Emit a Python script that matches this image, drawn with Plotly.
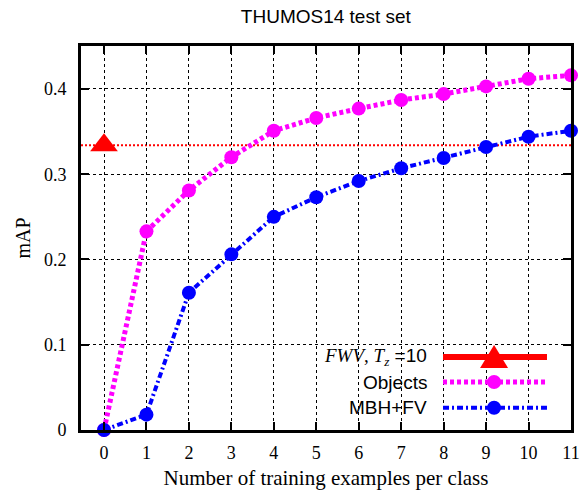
import plotly.graph_objects as go

# ---- data ----
n_examples = [0, 1, 2, 3, 4, 5, 6, 7, 8, 9, 10, 11]
objects_map = [0.0, 0.233, 0.281, 0.320, 0.351, 0.366, 0.377, 0.387, 0.394, 0.403, 0.412, 0.416]
mbhfv_map = [0.0, 0.018, 0.161, 0.206, 0.250, 0.273, 0.292, 0.307, 0.319, 0.332, 0.344, 0.351]
fwv_x = [0]
fwv_map = [0.334]
y_ticks = [0, 0.1, 0.2, 0.3, 0.4]
y_ticklabels = ["0", "0.1", "0.2", "0.3", "0.4"]

PINK = "#FF00FF"
BLUE = "#0000FF"
RED = "#FF0000"
SERIF = "Liberation Serif, Times New Roman, serif"
SANS = "Liberation Sans, Arial, sans-serif"

fig = go.Figure()

fig.add_trace(go.Scatter(
    x=n_examples, y=objects_map, mode="lines+markers", name="Objects",
    line=dict(color=PINK, width=5, dash="4px,3px"),
    marker=dict(color=PINK, size=14), cliponaxis=False, showlegend=False))
fig.add_trace(go.Scatter(
    x=n_examples, y=mbhfv_map, mode="lines+markers", name="MBH+FV",
    line=dict(color=BLUE, width=4, dash="6px,3px,2px,3px"),
    marker=dict(color=BLUE, size=14), cliponaxis=False, showlegend=False))
fig.add_trace(go.Scatter(
    x=fwv_x, y=fwv_map, mode="markers", name="FWV, Tz=10",
    marker=dict(color=RED, size=24, symbol="triangle-up"),
    cliponaxis=False, showlegend=False))

# horizontal FWV reference line across the plot
fig.add_shape(type="line", xref="paper", yref="y", x0=0, x1=1,
              y0=fwv_map[0], y1=fwv_map[0], layer="between",
              line=dict(color=RED, width=2, dash="2px,2px"))

# ---- manual legend (gnuplot style: text left, sample right) ----
L0, L1, LM, TX = 0.7388, 0.951, 0.843, 0.7102
fwv_label = ("<span style='font-family:Liberation Serif'><i>FWV</i>, <i>T</i>"
             "<sub><i>z</i></sub></span> =10")
rows = [
    (fwv_label, 0.190, RED, 6, "solid", "tri"),
    ("Objects", 0.125, PINK, 5, "4px,3px", "circ"),
    ("MBH+FV", 0.058, BLUE, 4, "6px,3px,2px,3px", "circ"),
]
for text, yy, col, w, dash, mk in rows:
    fig.add_annotation(text=text, xref="paper", yref="paper", x=TX, y=yy,
                       xanchor="right", yanchor="middle", showarrow=False,
                       font=dict(family=SANS, size=19, color="black"))
    fig.add_shape(type="line", xref="paper", yref="paper", x0=L0, x1=L1,
                  y0=yy, y1=yy, line=dict(color=col, width=w, dash=dash))
    if mk == "circ":
        fig.add_shape(type="circle", xref="paper", yref="paper",
                      xsizemode="pixel", ysizemode="pixel",
                      xanchor=LM, yanchor=yy, x0=-7, x1=7, y0=-7, y1=7,
                      fillcolor=col, line=dict(width=0))
    else:
        fig.add_shape(type="path", xref="paper", yref="paper",
                      xsizemode="pixel", ysizemode="pixel",
                      xanchor=LM, yanchor=yy,
                      path="M -14 -11 L 14 -11 L 0 12 Z",
                      fillcolor=col, line=dict(width=0))

axis_common = dict(
    showline=True, linecolor="black", linewidth=3, mirror="allticks",
    ticks="inside", ticklen=8, tickwidth=2, tickcolor="black",
    showgrid=True, gridcolor="black", griddash="dot", gridwidth=1,
    zeroline=False, automargin=False,
    tickfont=dict(family=SERIF, size=18, color="black"),
)

fig.update_xaxes(range=[-0.542, 11], tickmode="array", tickvals=n_examples,
                 ticklabelstandoff=4,
                 title=dict(text="Number of training examples per class",
                            font=dict(family=SERIF, size=21, color="black"),
                            standoff=18),
                 **axis_common)
fig.update_yaxes(range=[0, 0.4504], tickmode="array", tickvals=y_ticks,
                 ticktext=y_ticklabels, ticklabelstandoff=8,
                 title=dict(text="mAP", font=dict(family=SERIF, size=20, color="black"),
                            standoff=8),
                 **axis_common)

fig.update_layout(
    width=585, height=490,
    margin=dict(l=81, r=14, t=46, b=60),
    paper_bgcolor="white", plot_bgcolor="white",
    title=dict(text="THUMOS14 test set", x=0.557, xanchor="center",
               y=1 - 16 / 490, yanchor="middle", yref="container",
               font=dict(family=SANS, size=19, color="black")),
    showlegend=False,
)

fig.write_html(
    "out.html",
    config={"displayModeBar": False},
    post_script="document.body.style.margin='0';"
                "document.body.style.overflow='hidden';"
                "document.documentElement.style.overflow='hidden';",
)
